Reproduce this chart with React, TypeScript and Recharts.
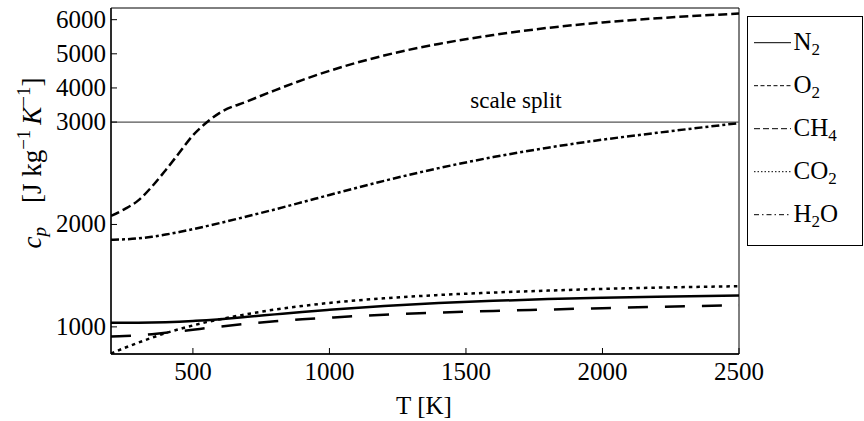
import React from 'react';
import { LineChart, Line, XAxis, YAxis, ReferenceLine, ReferenceArea, Label } from 'recharts';

// temperature grid [K]
const temps = [200, 250, 300, 350, 400, 450, 500, 550, 600, 700, 800, 900, 1000, 1200, 1400, 1600, 1800, 2000, 2200, 2500];

// specific heat c_p [J kg^-1 K^-1]
const n2 = [1039, 1039, 1040, 1042, 1045, 1050, 1057, 1065, 1075, 1098, 1122, 1146, 1167, 1204, 1232, 1254, 1271, 1284, 1295, 1306];
const o2 = [905, 910, 918, 929, 942, 957, 972, 988, 1003, 1031, 1054, 1074, 1090, 1119, 1139, 1155, 1169, 1183, 1195, 1211];
const ch4 = [2084, 2150, 2235, 2370, 2530, 2700, 2870, 2995, 3280, 3610, 3930, 4230, 4500, 4950, 5290, 5550, 5760, 5920, 6040, 6180];
const co2 = [740, 795, 846, 894, 939, 978, 1014, 1046, 1075, 1125, 1169, 1204, 1234, 1279, 1311, 1335, 1354, 1371, 1383, 1397];
const h2o = [1850, 1855, 1864, 1880, 1901, 1926, 1954, 1984, 2015, 2080, 2147, 2217, 2288, 2426, 2550, 2658, 2750, 2828, 2895, 2990];

const xTicks = [500, 1000, 1500, 2000, 2500];
const yTicks = [1000, 2000, 3000, 4000, 5000, 6000];

// above the split the axis is squeezed
const SPLIT = 3000;
const SQUEEZE = 3;
const toAxis = (v: number) => (v <= SPLIT ? v : SPLIT + (v - SPLIT) / SQUEEZE);
const fromAxis = (v: number) => (v <= SPLIT ? v : SPLIT + (v - SPLIT) * SQUEEZE);

const data = temps.map((t, i) => ({
  t,
  n2: toAxis(n2[i]),
  o2: toAxis(o2[i]),
  ch4: toAxis(ch4[i]),
  co2: toAxis(co2[i]),
  h2o: toAxis(h2o[i]),
}));

const FONT = '"Liberation Serif", "Times New Roman", Times, "DejaVu Serif", serif';
const txt = { fontFamily: FONT };
const Y_MIN = 735;
const Y_MAX = 4114;

const YTick = (props: any) => {
  const { x, y, payload } = props;
  return (
    <g>
      <line x1={x} x2={x + 6} y1={y} y2={y} stroke="#000" strokeWidth={1} />
      <text x={x - 5} y={y + 8} textAnchor="end" style={txt} fontSize={25} fill="#000">
        {Math.round(fromAxis(payload.value))}
      </text>
    </g>
  );
};

const XTick = (props: any) => {
  const { x, y, payload } = props;
  return (
    <g>
      <line x1={x} x2={x} y1={y} y2={y - 6} stroke="#000" strokeWidth={1} />
      <text x={x} y={y + 26} textAnchor="middle" style={txt} fontSize={25} fill="#000">
        {payload.value}
      </text>
    </g>
  );
};

const YTitle = () => (
  <text transform="translate(41,163) rotate(-90)" textAnchor="middle" style={txt} fontSize={27} fill="#000">
    <tspan fontStyle="italic">c</tspan>
    <tspan fontStyle="italic" fontSize={19} dy={5}>p</tspan>
    <tspan dy={-5} dx={24}>[J kg</tspan>
    <tspan fontSize={19} dy={-11}>−1</tspan>
    <tspan fontStyle="italic" dy={11} dx={5}>K</tspan>
    <tspan fontSize={19} dy={-11}>−1</tspan>
    <tspan dy={11}>]</tspan>
  </text>
);

const XTitle = () => (
  <text x={424} y={414} textAnchor="middle" style={txt} fontSize={25} fill="#000">
    T [K]
  </text>
);

const SplitLabel = (props: any) => {
  const { viewBox } = props;
  return (
    <text x={516} y={viewBox.y - 14} textAnchor="middle" style={txt} fontSize={23} fill="#000">
      scale split
    </text>
  );
};

const legendItems = [
  { name: 'N', sub: '2', rest: '', dash: undefined },
  { name: 'O', sub: '2', rest: '', dash: '4 2.5' },
  { name: 'CH', sub: '4', rest: '', dash: '6 3' },
  { name: 'CO', sub: '2', rest: '', dash: '1.5 2' },
  { name: 'H', sub: '2', rest: 'O', dash: '5 3 1.5 3' },
];

const LegendBox = () => (
  <svg width={116} height={230} style={{ position: 'absolute', left: 747, top: 16 }}>
    <rect x={0.5} y={0.5} width={115} height={229} fill="#fff" stroke="#000" strokeWidth={1} />
    {legendItems.map((item, i) => {
      const cy = 26.7 + 43 * i;
      return (
        <g key={i}>
          <line x1={7} x2={44} y1={cy} y2={cy} stroke="#000" strokeWidth={1} strokeDasharray={item.dash} />
          <text x={46.5} y={cy + 7.5} style={txt} fontSize={25} fill="#000">
            {item.name}
            <tspan fontSize={17} dy={5}>{item.sub}</tspan>
            {item.rest ? <tspan dy={-5}>{item.rest}</tspan> : null}
          </text>
        </g>
      );
    })}
  </svg>
);

export default function App() {
  return (
    <div style={{ position: 'absolute', left: 0, top: 0, width: 864, height: 421, background: '#fff' }}>
      <LineChart width={864} height={421} data={data} margin={{ top: 8, right: 125, bottom: 0, left: 0 }}>
        <ReferenceArea x1={200} x2={2500} y1={Y_MIN} y2={Y_MAX} fill="none" stroke="#000" strokeWidth={1} />
        <XAxis
          dataKey="t"
          type="number"
          domain={[200, 2500]}
          ticks={xTicks}
          height={67}
          tickSize={0}
          tickMargin={0}
          tickLine={false}
          axisLine={{ stroke: '#000', strokeWidth: 1.3 }}
          tick={<XTick />}
          allowDataOverflow
        >
          <Label content={() => <XTitle />} />
        </XAxis>
        <YAxis
          type="number"
          domain={[Y_MIN, Y_MAX]}
          ticks={yTicks.map(toAxis)}
          width={111}
          tickSize={0}
          tickMargin={0}
          tickLine={false}
          axisLine={{ stroke: '#000', strokeWidth: 1.3 }}
          tick={<YTick />}
          allowDataOverflow
        >
          <Label content={() => <YTitle />} />
        </YAxis>
        <ReferenceLine y={SPLIT} stroke="#555" strokeWidth={1.3}>
          <Label content={<SplitLabel />} />
        </ReferenceLine>
        <Line type="monotone" dataKey="n2" stroke="#000" strokeWidth={2.5} dot={false} isAnimationActive={false} />
        <Line type="monotone" dataKey="o2" stroke="#000" strokeWidth={2.5} strokeDasharray="20 17" dot={false} isAnimationActive={false} />
        <Line type="monotone" dataKey="ch4" stroke="#000" strokeWidth={2.5} strokeDasharray="9 4" dot={false} isAnimationActive={false} />
        <Line type="monotone" dataKey="co2" stroke="#000" strokeWidth={2.5} strokeDasharray="3.5 4" dot={false} isAnimationActive={false} />
        <Line type="monotone" dataKey="h2o" stroke="#000" strokeWidth={2.5} strokeDasharray="8 3 3 3" dot={false} isAnimationActive={false} />
      </LineChart>
      <LegendBox />
    </div>
  );
}
